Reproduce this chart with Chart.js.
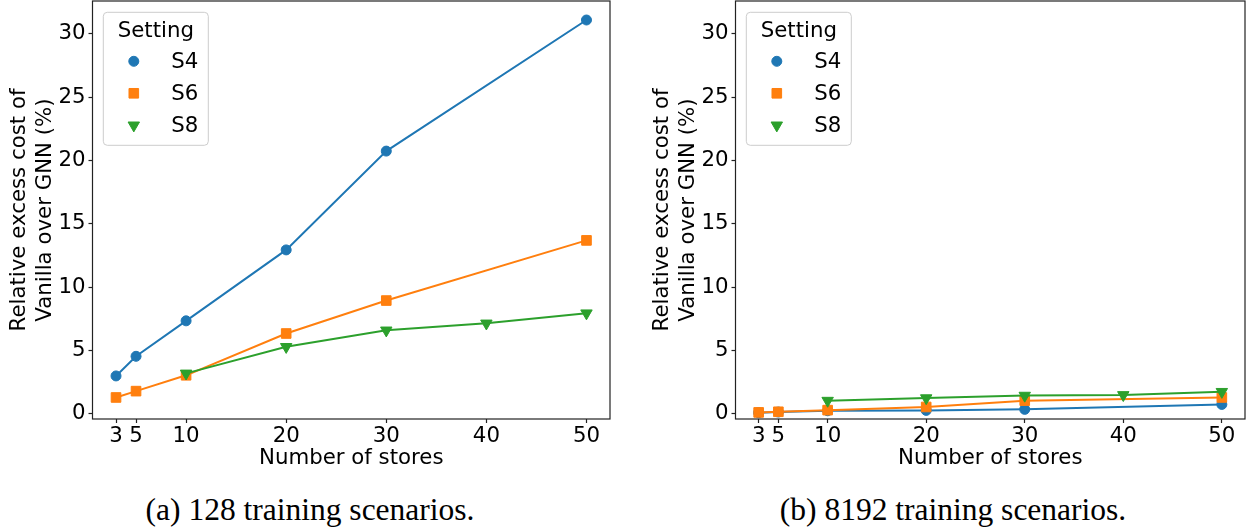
<!DOCTYPE html>
<html>
<head>
<meta charset="utf-8">
<script src="https://cdn.jsdelivr.net/npm/chart.js@4.4.1/dist/chart.umd.min.js"></script>
<style>
  html, body { margin: 0; padding: 0; background: #fff; }
  #wrap { position: relative; width: 1255px; height: 527px; overflow: hidden; }
  canvas { position: absolute; top: 0; }
  #leftChart { left: 0; }
  #rightChart { left: 643px; }
  .caption {
    position: absolute; top: 494px; line-height: 1;
    font-family: "Liberation Serif", "DejaVu Serif", serif; font-size: 31.5px; color: #000;
    white-space: nowrap; transform: translateX(-50%);
  }
</style>
</head>
<body>
<div id="wrap">
  <canvas id="leftChart" width="620" height="475"></canvas>
  <canvas id="rightChart" width="612" height="475"></canvas>
  <div class="caption" style="left:310px">(a) 128 training scenarios.</div>
  <div class="caption" style="left:953px">(b) 8192 training scenarios.</div>
</div>
<script>
// number of stores per setting (S8 starts at 10)
const storesS4S6 = [3, 5, 10, 20, 30, 50];
const storesS8 = [10, 20, 30, 40, 50];

// (a) 128 training scenarios
const s4Small = [3.0, 4.55, 7.35, 12.95, 20.75, 31.1];
const s6Small = [1.3, 1.8, 3.05, 6.35, 8.95, 13.7];
const s8Small = [3.2, 5.3, 6.6, 7.15, 7.95];

// (b) 8192 training scenarios
const s4Large = [0.1, 0.15, 0.25, 0.28, 0.36, 0.75];
const s6Large = [0.12, 0.17, 0.3, 0.55, 1.05, 1.3];
const s8Large = [1.05, 1.25, 1.45, 1.5, 1.75];

const xTicks = [3, 5, 10, 20, 30, 40, 50];
const yTicks = [0, 5, 10, 15, 20, 25, 30];
const settingNames = ['S4', 'S6', 'S8'];
const settingColors = ['#1f77b4', '#ff7f0e', '#2ca02c'];

const FONT = "'DejaVu Sans', sans-serif";
const FONT_SIZE = 21.3;

function points(xs, ys) {
  return xs.map((x, i) => ({ x, y: ys[i] }));
}

function makeDataset(index, xs, ys) {
  const styles = [
    { pointStyle: 'circle', radius: 5, rotation: 0 },
    { pointStyle: 'rect', radius: 6.8, rotation: 0 },
    { pointStyle: 'triangle', radius: 6.6, rotation: 180 }
  ];
  const st = styles[index];
  return {
    label: settingNames[index],
    data: points(xs, ys),
    borderColor: settingColors[index],
    backgroundColor: settingColors[index],
    borderWidth: 2,
    pointStyle: st.pointStyle,
    pointRadius: st.radius,
    pointRotation: st.rotation,
    pointBorderWidth: 1,
    pointBackgroundColor: settingColors[index],
    pointBorderColor: settingColors[index],
    order: 3 - index
  };
}

// frame around the axes + matplotlib-like legend box
const framePlugin = {
  id: 'frameAndLegend',
  afterDraw(chart) {
    const { ctx, chartArea: a } = chart;
    ctx.save();
    ctx.strokeStyle = '#222';
    ctx.lineWidth = 1.2;
    ctx.strokeRect(a.left, a.top, a.right - a.left, a.bottom - a.top);

    const x0 = a.left + 10.8;
    const y0 = a.top + 11.3;
    const w = 105;
    const h = 133;
    ctx.beginPath();
    ctx.roundRect(x0, y0, w, h, 4);
    ctx.fillStyle = 'rgba(255,255,255,0.8)';
    ctx.fill();
    ctx.strokeStyle = '#cccccc';
    ctx.lineWidth = 1;
    ctx.stroke();

    ctx.fillStyle = '#000';
    ctx.font = `${FONT_SIZE}px ${FONT}`;
    ctx.textBaseline = 'middle';
    ctx.textAlign = 'center';
    ctx.fillText('Setting', x0 + w / 2, y0 + 19);

    ctx.textAlign = 'left';
    chart.data.datasets.forEach((ds, i) => {
      const y = y0 + 49 + i * 32;
      ctx.fillStyle = ds.pointBackgroundColor;
      ctx.strokeStyle = ds.pointBorderColor;
      ctx.lineWidth = 1;
      Chart.helpers.drawPoint(ctx, {
        pointStyle: ds.pointStyle,
        radius: ds.pointRadius,
        rotation: ds.pointRotation,
        borderWidth: 1
      }, x0 + 30.5, y);
      ctx.fillStyle = '#000';
      ctx.fillText(ds.label, x0 + 68, y + 1);
    });
    ctx.restore();
  }
};

function makeChart(canvasId, s4, s6, s8) {
  const tickFont = { family: FONT, size: FONT_SIZE };
  const yTickFont = { family: FONT, size: FONT_SIZE, lineHeight: '1px' };
  return new Chart(document.getElementById(canvasId), {
    type: 'line',
    data: {
      datasets: [
        makeDataset(0, storesS4S6, s4),
        makeDataset(1, storesS4S6, s6),
        makeDataset(2, storesS8, s8)
      ]
    },
    options: {
      responsive: false,
      animation: false,
      layout: { autoPadding: false, padding: { top: 1, right: 10, bottom: 0, left: 0 } },
      plugins: { legend: { display: false }, tooltip: { enabled: false } },
      scales: {
        x: {
          type: 'linear',
          min: 0.65,
          max: 52.35,
          afterBuildTicks: (scale) => { scale.ticks = xTicks.map((v) => ({ value: v })); },
          afterFit: (scale) => {
            scale.height = 56;
            scale.paddingLeft = 0;
            scale.paddingRight = 0;
          },
          grid: { display: true, drawOnChartArea: false, drawTicks: true, tickLength: 4, color: '#222', tickWidth: 1.2 },
          border: { display: false },
          ticks: { font: tickFont, color: '#000', padding: 1, maxRotation: 0, autoSkip: false },
          title: {
            display: true, text: 'Number of stores', color: '#000',
            font: tickFont, padding: { top: 0, bottom: 4 }
          }
        },
        y: {
          min: -0.4,
          max: 32.6,
          afterBuildTicks: (scale) => { scale.ticks = yTicks.map((v) => ({ value: v })); },
          afterFit: (scale) => {
            scale.width = 92.5;
            scale.paddingTop = 0;
            scale.paddingBottom = 0;
          },
          grid: { display: true, drawOnChartArea: false, drawTicks: true, tickLength: 4, color: '#222', tickWidth: 1.2 },
          border: { display: false },
          ticks: { font: yTickFont, color: '#000', padding: 3 },
          title: {
            display: true, text: ['Relative excess cost of', 'Vanilla over GNN (%)'], color: '#000',
            font: tickFont, padding: { top: 7, bottom: 0 }
          }
        }
      }
    },
    plugins: [framePlugin]
  });
}

makeChart('leftChart', s4Small, s6Small, s8Small);
makeChart('rightChart', s4Large, s6Large, s8Large);
</script>
</body>
</html>
